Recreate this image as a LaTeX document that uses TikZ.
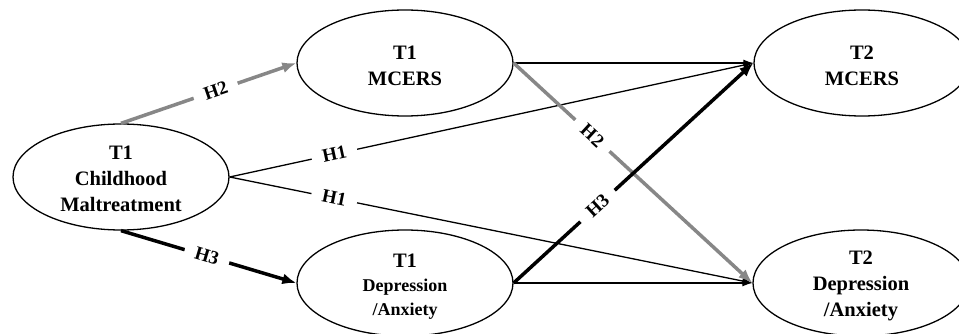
\documentclass[tikz,border=0pt]{standalone}
\usepackage{fontspec}
\setmainfont{Liberation Serif}
\usetikzlibrary{shapes.geometric,arrows.meta}
\definecolor{lg}{RGB}{135,135,135}
\begin{document}
\begin{tikzpicture}[x=1pt,y=-1pt,
 var/.style={draw,ellipse,line width=1.3pt,minimum width=216pt,minimum height=106pt,inner sep=0pt},
 txt/.style={align=center,inner sep=0pt,font=\fontsize{20.5}{26}\selectfont\bfseries},
 thinarr/.style={line width=1.3pt,-{Latex[length=10pt,width=7pt]}},
 thickblack/.style={line width=3.5pt,-{Latex[length=14pt,width=11pt]}},
 thickgray/.style={thickblack,draw=lg},
 lab/.style={sloped,fill=white,inner xsep=11pt,inner ysep=1pt,font=\fontsize{19}{19}\selectfont\bfseries,text=black}
]
\useasboundingbox (0,0) rectangle (959,334);
\clip (0,0) rectangle (959,334);

\node[var] (cm) at (121,177) {};
\node[var] (m1) at (405,63) {};
\node[var] (d1) at (405,283) {};
\node[var] (m2) at (862,63) {};
\node[var] (d2) at (861,283) {};

\node[txt] (cmt) at (121,179) {T1\\Childhood\\Maltreatment};
\node[txt] (m1t) at (405,66) {T1\\MCERS};
\node[txt,font=\fontsize{18}{24}\selectfont\bfseries] (d1t) at (405,287) {{\fontsize{20.5}{24}\selectfont T1}\\Depression\\/Anxiety};
\node[txt] (m2t) at (862,66) {T2\\MCERS};
\node[txt] (d2t) at (861,286) {T2\\Depression\\/Anxiety};

\draw[thickgray] (cm.north) -- node[lab,pos=0.54] {H2} (m1.west);
\draw[thickblack] (cm.south) -- node[lab,pos=0.49] {H3} (d1.west);
\draw[thinarr] (cm.east) -- node[lab,pos=0.2] {H1} (m2.west);
\draw[thinarr] (cm.east) -- node[lab,pos=0.2] {H1} (d2.west);
\draw[thinarr] (m1.east) -- (m2.west);
\draw[thinarr] (d1.east) -- (d2.west);
\draw[thickgray] (m1.east) -- node[lab,pos=0.33] {H2} (d2.west);
\draw[thickblack] (d1.east) -- node[lab,pos=0.35] {H3} (m2.west);
\end{tikzpicture}
\end{document}
